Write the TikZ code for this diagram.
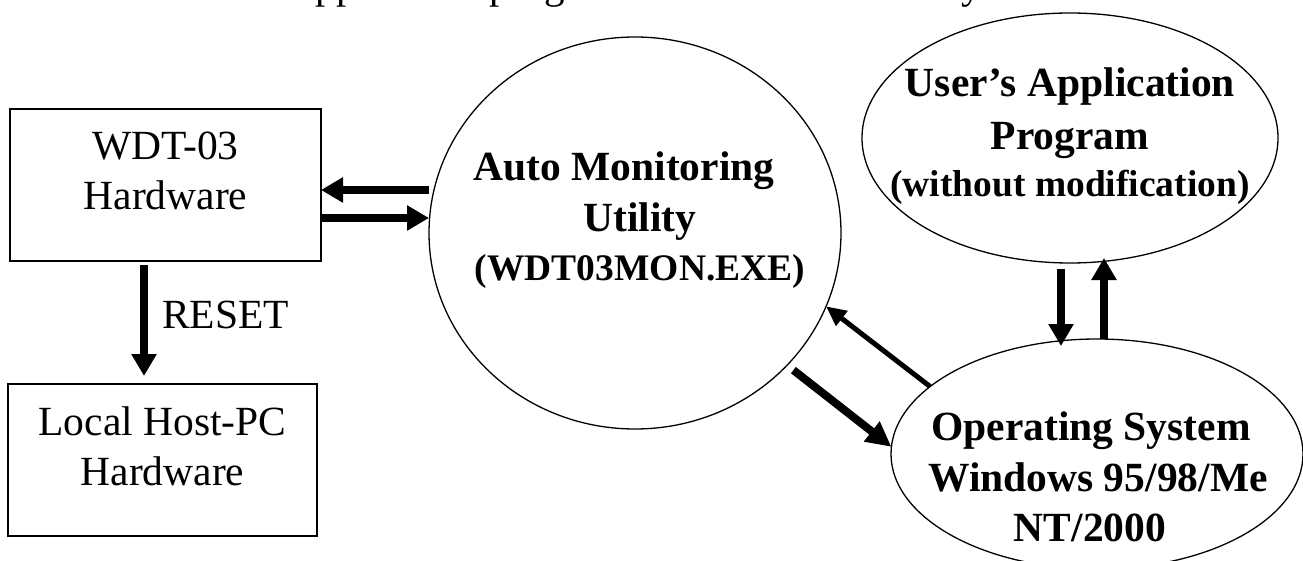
\documentclass[tikz,border=0pt]{standalone}
\usepackage{fontspec}
\setmainfont{Liberation Serif}
\usetikzlibrary{arrows.meta,shapes.geometric}
\newcommand\FBig{\fontsize{41.5}{48}\selectfont}
\newcommand\FSmall{\fontsize{37.5}{44}\selectfont}
\begin{document}
\begin{tikzpicture}[x=1pt,y=-1pt,
  box/.style={draw, line width=1.3pt, rectangle, inner sep=0pt, outer sep=0pt},
  oval/.style={draw, line width=1.3pt, ellipse, inner sep=0pt, outer sep=0pt},
  txt/.style={anchor=base, inner sep=0pt, outer sep=0pt, font=\FBig},
  btxt/.style={txt, font=\FBig\bfseries},
  stxt/.style={txt, font=\FSmall\bfseries},
  bigarrow/.style={line width=7.5pt, -{Triangle[length=22pt,width=24pt]}},
  thinarrow/.style={line width=5pt, -{Triangle[length=20pt,width=18pt]}},
  fatarrow/.style={line width=8pt, -{Triangle[length=25pt,width=24pt]}}]
\useasboundingbox (0,0) rectangle (1303,561);

% clipped line of text at the top edge
\begin{scope}
\clip (0,0) rectangle (1303,561);
\node[txt, anchor=base west, font=\fontsize{41}{48}\selectfont] (toptext) at (116,-1) {The user’s application program will be monitored by};
\end{scope}

% shapes
\node[box, minimum width=311pt, minimum height=152pt] (wdt) at (165.5,185) {};
\node[box, minimum width=309pt, minimum height=152pt] (local) at (162.5,460) {};
\node[oval, minimum width=412pt, minimum height=392pt] (amc) at (635,233) {};
\node[oval, minimum width=416pt, minimum height=250pt] (ua) at (1070,138) {};
\node[oval, minimum width=412pt, minimum height=230pt] (os) at (1097,454) {};

% texts
\node[txt] (wdtA) at (165.5,160) {WDT-03};
\node[txt] (wdtB) at (165.5,210) {Hardware};
\node[txt] (locA) at (162.5,435) {Local Host-PC};
\node[txt] (locB) at (162.5,485) {Hardware};
\node[txt, anchor=base west] (reset) at (162,328) {RESET};
\node[btxt] (amcA) at (624,181) {Auto Monitoring};
\node[btxt] (amcB) at (640,232) {Utility};
\node[stxt] (amcC) at (640,280) {(WDT03MON.EXE)};
\node[btxt] (uaA) at (1070,97) {User’s Application};
\node[btxt] (uaB) at (1070,150) {Program};
\node[stxt] (uaC) at (1070,197) {(without modification)};
\node[btxt] (osA) at (1091,440) {Operating System};
\node[btxt] (osB) at (1098,491) {Windows 95/98/Me};
\node[btxt] (osC) at (1090,541) {NT/2000};

% connectors
\coordinate (wA) at ([yshift=-5pt]wdt.east);
\coordinate (wB) at ([yshift=-33pt]wdt.east);
\draw[bigarrow] (wA -| amc.west) -- (wA);
\draw[bigarrow] (wB) -- (wB -| amc.west);
\draw[bigarrow] ([xshift=-21.5pt,yshift=-4pt]wdt.south) -- ([xshift=-18.5pt,yshift=8pt]local.north);

\draw[thinarrow] (os.158) -- (amc.-21);
\draw[fatarrow, shorten <=8pt] (amc.-41) -- (os.178);

\coordinate (d1) at ([xshift=-9pt,yshift=-6pt]ua.south);
\coordinate (u1) at ([xshift=34pt]ua.south);
\draw[bigarrow, shorten >=-7pt] (d1) -- (d1 |- os.north);
\draw[bigarrow, shorten >=-5pt] (u1 |- os.north) -- (u1);
\end{tikzpicture}
\end{document}
